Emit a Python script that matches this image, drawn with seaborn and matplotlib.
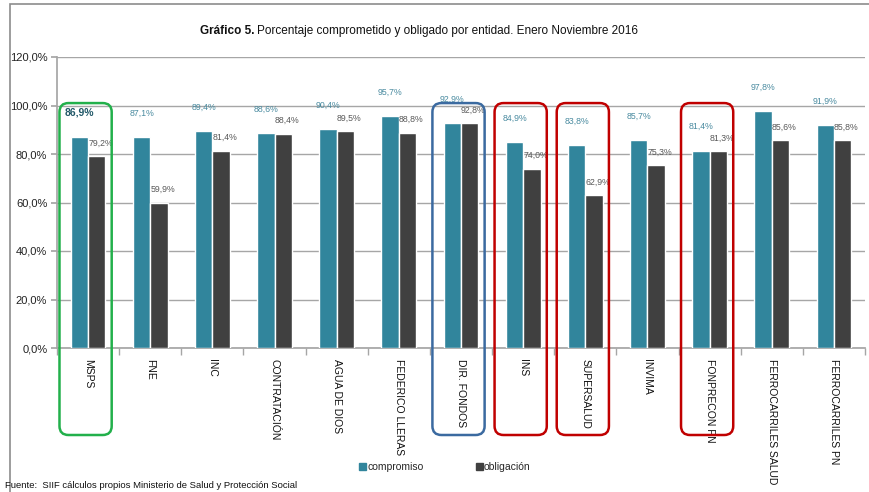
import matplotlib
matplotlib.use("Agg")
import matplotlib.pyplot as plt
import numpy as np
import pandas as pd
import seaborn as sns
from matplotlib.patches import FancyBboxPatch, Rectangle
from matplotlib.transforms import IdentityTransform

ENTIDADES = ["MSPS", "FNE", "INC", "CONTRATACIÓN", "AGUA DE DIOS", "FEDERICO LLERAS",
             "DIR. FONDOS", "INS", "SUPERSALUD", "INVIMA", "FONPRECON PN",
             "FERROCARRILES SALUD", "FERROCARRILES PN"]
COMPROMISO = [86.9, 87.1, 89.4, 88.6, 90.4, 95.7, 92.9, 84.9, 83.8, 85.7, 81.4, 97.8, 91.9]
OBLIGACION = [79.2, 59.9, 81.4, 88.4, 89.5, 88.8, 92.8, 74.0, 62.9, 75.3, 81.3, 85.6, 85.8]
SERIES = ["compromiso", "obligación"]
YTICKS = [0, 20, 40, 60, 80, 100, 120]

# highlighted entities: (index, colour)
HIGHLIGHTS = [(0, "#22B04B"), (6, "#3B6AA0"), (7, "#C00000"), (8, "#C00000"), (10, "#C00000")]

TEAL = "#31859C"
DARK = "#404040"
GRID = "#A6A6A6"


def fmt(v):
    return f"{v:.1f}%".replace(".", ",")


def main():
    sns.set_theme(style="white")
    plt.rcParams["font.family"] = ["Liberation Sans", "DejaVu Sans"]

    df = pd.DataFrame({
        "entidad": ENTIDADES * 2,
        "serie": [SERIES[0]] * len(ENTIDADES) + [SERIES[1]] * len(ENTIDADES),
        "valor": COMPROMISO + OBLIGACION,
    })

    fig = plt.figure(figsize=(8.69, 4.92), dpi=100)
    ax = fig.add_axes([57 / 869, 1 - 348 / 492, (865 - 57) / 869, (348 - 57) / 492])

    sns.barplot(data=df, x="entidad", y="valor", hue="serie", palette=[TEAL, DARK],
                width=0.56, saturation=1, ax=ax, legend=False, zorder=3)

    ax.set_ylim(0, 120)
    ax.set_xlim(-0.5, len(ENTIDADES) - 0.5)
    ax.set_yticks(YTICKS)
    ax.set_yticklabels([fmt(v) for v in YTICKS], fontsize=8, color="#222222")
    ax.yaxis.grid(True, color=GRID, linewidth=1, zorder=0)
    ax.set_axisbelow(True)
    ax.tick_params(axis="y", length=4, color=GRID, pad=3, left=True)

    ax.set_xticks(range(len(ENTIDADES)))
    ax.set_xticklabels([])
    ax.tick_params(axis="x", length=0)
    ax.set_xticks(np.arange(-0.5, len(ENTIDADES)), minor=True)
    ax.tick_params(axis="x", which="minor", length=5, color=GRID, bottom=True)
    for i, name in enumerate(ENTIDADES):
        ax.annotate(name, xy=(i, 0), xytext=(0, -8), textcoords="offset points",
                    rotation=270, ha="center", va="top", fontsize=7.5, color="#111111",
                    annotation_clip=False)

    ax.set_xlabel("")
    ax.set_ylabel("")
    for side in ["top", "right"]:
        ax.spines[side].set_visible(False)
    ax.spines["left"].set_color(GRID)
    ax.spines["bottom"].set_color(GRID)

    # value labels
    for i, (c, o) in enumerate(zip(COMPROMISO, OBLIGACION)):
        bold = i == 0
        ax.text(i - 0.14, c + 8, fmt(c), ha="center", va="bottom",
                fontsize=7.5 if bold else 6.3, fontweight="bold" if bold else "normal",
                color="#215868" if bold else "#4A8BA0", zorder=4)
        ax.text(i + 0.2, o + 3.5, fmt(o), ha="center", va="bottom", fontsize=6.3,
                color="#595959", zorder=4)

    # rounded highlight boxes in pixel coordinates
    fig.canvas.draw()
    for idx, col in HIGHLIGHTS:
        x0, y_top = ax.transData.transform((idx - 0.46, 101))
        x1, y0 = ax.transData.transform((idx + 0.38, 0))
        y_bot = y0 - 87
        box = FancyBboxPatch((x0, y_bot), x1 - x0, y_top - y_bot,
                             boxstyle="round,pad=0,rounding_size=9",
                             transform=IdentityTransform(), fill=False,
                             edgecolor=col, linewidth=1.8, zorder=5)
        fig.patches.append(box)

    # outer frame
    fig.patches.append(Rectangle((10 / 869, -0.01), 1.0, 1 - 4 / 492 + 0.01,
                                 transform=fig.transFigure, fill=False,
                                 edgecolor="#8C8C8C", linewidth=1.2))

    fig.text(254 / 869, 1 - 31 / 492, "Gráfico 5.", ha="right", va="center",
             fontsize=8.5, fontweight="bold", color="#111111")
    fig.text(257 / 869, 1 - 31 / 492, "Porcentaje comprometido y obligado por entidad. Enero Noviembre 2016",
             ha="left", va="center", fontsize=8.5, color="#111111")

    handles = [Rectangle((0, 0), 1, 1, color=TEAL), Rectangle((0, 0), 1, 1, color=DARK)]
    fig.legend(handles, SERIES, loc="center", bbox_to_anchor=(0.512, 1 - 467 / 492), ncol=2,
               frameon=False, fontsize=7.5, handlelength=0.7, handleheight=0.7,
               handletextpad=0.1, columnspacing=5.0)

    fig.text(5 / 869, 1 - 485 / 492, "Fuente:  SIIF cálculos propios Ministerio de Salud y Protección Social",
             ha="left", va="center", fontsize=6.8, color="#111111")

    fig.savefig("out.png", dpi=100)


if __name__ == "__main__":
    main()
